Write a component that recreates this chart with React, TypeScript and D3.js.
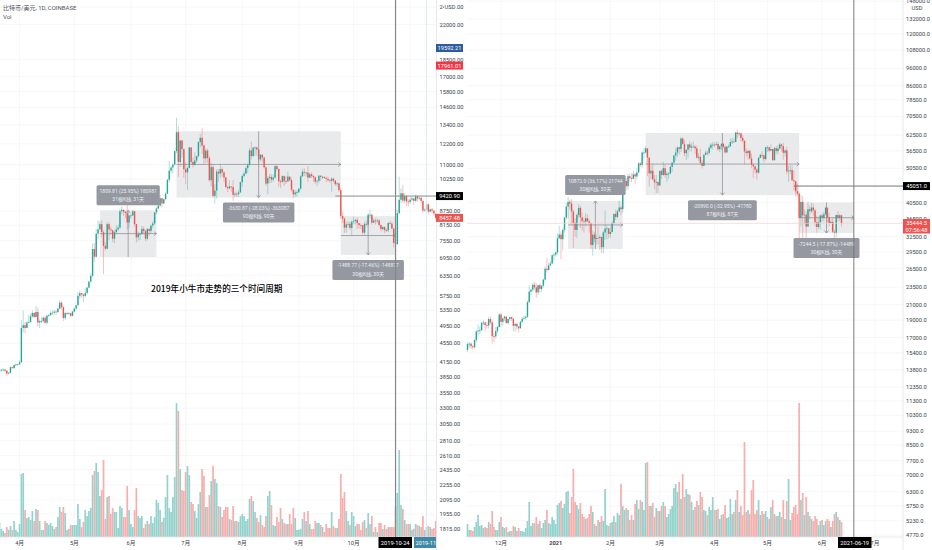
import * as d3 from "d3";

const W = 932;
const H = 550;
const FONT = "Roboto, 'Noto Sans CJK SC', sans-serif";
const UP = "#26a69a";
const DOWN = "#ef5350";
const UP_VOL = "#94d3cd";
const DOWN_VOL = "#f8aeac";
const GRID = "#f3f4f6";
const AXIS_TEXT = "#3a3e4a";

// left chart: 2019-03-21 .. 2019-11-15
const closesL = [
  3980, 3990, 3995, 3970, 3915, 3930, 4040, 4025, 4085, 4095, 4100,
  4140, 4905, 4975, 4905, 5040, 5050, 5195, 5285, 5180, 5310, 5040, 5075, 5075, 5160, 5035, 5215, 5230, 5285, 5290, 5320, 5310, 5400, 5560, 5435, 5155, 5280, 5280, 5275, 5210, 5320,
  5400, 5490, 5750, 5830, 5790, 5750, 5830, 5990, 6170, 6350, 7250, 6980, 7820, 7990, 8200, 7880, 7360, 7260, 8200, 7990, 7950, 7630, 7880, 7990, 8060, 8740, 8800, 8720, 8660, 8270, 8550,
  8560, 8740, 8200, 7680, 7800, 7810, 8010, 7930, 7630, 8010, 7930, 8140, 8230, 8690, 8860, 8980, 9320, 9080, 9280, 9530, 10210, 10680, 10850, 11010, 11770, 12920, 11150, 12400, 11880, 10760,
  10590, 10830, 11980, 11150, 10990, 11230, 11480, 12300, 12570, 12100, 11350, 11800, 11370, 10190, 10870, 9430, 9680, 10630, 10530, 10760, 10590, 10330, 9850, 9790, 9880, 9850, 9480, 9530, 9510, 9590, 10090,
  10400, 10530, 10820, 10980, 11810, 11480, 11970, 11980, 11860, 11290, 11560, 11400, 10860, 10020, 10300, 10360, 10220, 10320, 10920, 10770, 10130, 10110, 10400, 10140, 10130, 10370, 10190, 9720, 9500, 9590, 9600,
  9770, 10390, 10620, 10580, 10580, 10320, 10490, 10400, 10340, 10120, 10160, 10420, 10360, 10360, 10310, 10260, 10190, 10160, 10270, 10170, 9990, 10030, 9700, 8530, 8430, 8060, 8190, 8210, 8050, 8300,
  8330, 8380, 8240, 8160, 8150, 7860, 8210, 8180, 8590, 8590, 8260, 8350, 8330, 8350, 8160, 8000, 8080, 7960, 7950, 8240, 8220, 8020, 7470, 7430, 8660, 9250, 9550, 9210, 9420, 9170, 9150,
  9250, 9310, 9200, 9410, 9310, 9340, 9200, 8770, 8810, 9040, 8720, 8820, 8760, 8640, 8457,
];
const highsL = [
  4020, 4010, 4020, 4000, 3985, 3950, 4060, 4050, 4100, 4120, 4115,
  4180, 5100, 5350, 5060, 5080, 5240, 5260, 5350, 5300, 5470, 5420, 5120, 5180, 5200, 5200, 5240, 5260, 5320, 5340, 5370, 5350, 5420, 5630, 5600, 5480, 5300, 5320, 5300, 5290, 5340,
  5420, 5510, 5850, 5900, 5840, 5810, 5960, 6020, 6200, 6430, 7450, 7470, 8000, 8350, 8320, 8370, 7950, 7480, 8280, 8280, 8100, 7980, 7950, 8160, 8180, 8850, 8950, 8820, 8720, 9050, 8590,
  8620, 8810, 8750, 8200, 7900, 7870, 8130, 8100, 7960, 8030, 8020, 8180, 8320, 8700, 8900, 9350, 9470, 9340, 9310, 9600, 10250, 11200, 10930, 11100, 11800, 13880, 13300, 12440, 12400, 11920,
  11150, 10900, 12000, 12010, 11400, 11700, 11500, 12350, 12800, 13200, 12150, 11920, 11900, 11500, 11100, 11040, 9980, 10760, 10770, 11050, 10860, 10650, 10340, 9910, 10180, 9900, 10200, 9620, 9640, 9720, 10120,
  10470, 10650, 10910, 11080, 11950, 12330, 12000, 12050, 12030, 11900, 11600, 11550, 11440, 10890, 10400, 10520, 10490, 10480, 10950, 11000, 10800, 10220, 10440, 10430, 10390, 10620, 10390, 10300, 9730, 9700, 9710,
  9800, 10450, 10780, 10800, 10620, 10920, 10580, 10590, 10450, 10390, 10220, 10450, 10430, 10420, 10380, 10370, 10380, 10240, 10350, 10290, 10200, 10100, 10060, 9800, 8730, 8470, 8280, 8320, 8300, 8350,
  8500, 8390, 8480, 8240, 8220, 8170, 8300, 8340, 8670, 8800, 8640, 8440, 8430, 8420, 8400, 8180, 8130, 8120, 8020, 8290, 8330, 8300, 8060, 7550, 8800, 10370, 9790, 9950, 9550, 9490, 9290,
  9360, 9380, 9340, 9500, 9440, 9400, 9370, 9210, 8870, 9100, 9070, 8860, 8890, 8800, 8600,
];
const lowsL = [
  3950, 3940, 3960, 3940, 3870, 3900, 3920, 4000, 4000, 4060, 4080,
  4080, 4130, 4800, 4780, 4900, 5020, 5040, 5160, 5150, 5170, 4950, 4900, 5030, 5040, 5000, 5010, 5180, 5200, 5240, 5250, 5230, 5280, 5390, 5370, 5080, 5100, 5230, 5230, 5170, 5190,
  5310, 5370, 5480, 5660, 5700, 5580, 5700, 5790, 5960, 6140, 6320, 6800, 6950, 7600, 7900, 7700, 6400, 7200, 7250, 7580, 7800, 7500, 7470, 7800, 7920, 8000, 8620, 8550, 8450, 8000, 8050,
  8420, 8530, 8100, 7480, 7550, 7570, 7770, 7800, 7530, 7560, 7740, 7830, 8040, 8170, 8600, 8840, 8950, 8910, 9050, 9260, 9520, 10100, 10550, 10540, 10950, 11650, 10350, 10900, 11400, 10300,
  10000, 9720, 10800, 11020, 10850, 10950, 11100, 11400, 12000, 11600, 11000, 11100, 11100, 10100, 9880, 9350, 9080, 9300, 10120, 10300, 10360, 10100, 9800, 9600, 9750, 9620, 9200, 9370, 9380, 9370, 9570,
  9860, 10340, 10490, 10550, 10950, 11280, 11420, 11500, 11500, 11100, 11200, 11120, 10780, 9900, 9500, 10050, 10050, 10100, 10270, 10670, 9870, 9800, 10050, 9910, 10000, 10100, 10120, 9640, 9320, 9370, 9380,
  9560, 9730, 10350, 10400, 10360, 10100, 10310, 10300, 10100, 10000, 9900, 10050, 10150, 10250, 10260, 10100, 10120, 10070, 9620, 10060, 9900, 9860, 9620, 8400, 8250, 7850, 7860, 8060, 7970, 7750,
  8200, 8190, 8000, 8020, 8000, 7790, 7780, 8100, 8130, 8450, 8170, 8270, 8180, 8240, 8100, 7920, 7940, 7840, 7880, 7880, 8200, 8000, 7300, 7370, 7400, 8600, 9100, 9100, 9080, 8970, 8950,
  9060, 9190, 9010, 9150, 9170, 9240, 9080, 8680, 8720, 8780, 8600, 8700, 8660, 8560, 8400,
];
const volumesL = [
  15, 8, 6, 4, 10, 7, 11, 7, 16, 7, 5, 13, 63, 64, 27, 19, 20, 17, 26, 16,
  28, 27, 16, 7, 7, 16, 14, 12, 14, 11, 8, 10, 20, 30, 25, 30, 24, 7, 8, 12,
  12, 12, 12, 33, 18, 10, 15, 27, 21, 26, 29, 62, 66, 74, 65, 41, 47, 77, 18, 40,
  41, 23, 29, 25, 25, 9, 31, 29, 20, 20, 51, 27, 13, 10, 27, 49, 21, 19, 21, 9,
  13, 16, 13, 21, 14, 20, 37, 34, 27, 15, 19, 40, 62, 29, 25, 40, 60, 134, 126, 68,
  47, 46, 65, 71, 62, 35, 33, 26, 19, 33, 45, 68, 61, 30, 30, 42, 56, 71, 58, 54,
  31, 30, 20, 27, 30, 30, 18, 17, 31, 16, 16, 15, 21, 23, 21, 16, 18, 38, 41, 36,
  25, 19, 15, 22, 12, 10, 21, 41, 46, 32, 12, 11, 20, 15, 29, 18, 14, 13, 13, 23,
  13, 29, 19, 7, 7, 8, 18, 25, 16, 26, 13, 8, 8, 16, 14, 14, 12, 10, 5, 13,
  9, 9, 25, 11, 9, 9, 18, 63, 39, 45, 26, 16, 12, 25, 21, 11, 13, 13, 7, 15,
  17, 9, 24, 13, 21, 5, 10, 5, 14, 14, 8, 12, 8, 10, 10, 10, 10, 31, 44, 87,
  32, 28, 17, 13, 13, 13, 7, 8, 13, 12, 11, 10, 21, 7, 10, 11, 10, 8, 9, 16,
];

// right chart: 2020-11-12 .. 2021-06-12
const closesR = [
  16300, 16340, 16070, 15970, 16720, 17660, 17780, 17820, 18680, 18720, 18420, 18370, 19150, 18730, 17150, 17140, 17720, 18180, 19710,
  18800, 19220, 19450, 18650, 19150, 19380, 19180, 18330, 18550, 18250, 18040, 18810, 19170, 19280, 19440, 21350, 22830, 23130, 23860, 23480, 22730, 23820, 23240, 23730, 24680, 26450, 26260, 27040, 27370, 28880, 28990,
  29410, 32200, 32970, 31990, 33990, 36810, 39480, 40630, 40240, 38240, 35540, 33970, 37390, 39150, 36830, 36010, 35820, 36630, 35910, 35500, 30850, 32950, 32090, 32280, 32260, 32470, 30410, 33420, 34260, 34310, 33110,
  33530, 35510, 37670, 36930, 38300, 39240, 38830, 46450, 46530, 45000, 47990, 47390, 47190, 48580, 47930, 49150, 52130, 51580, 55900, 55900, 57410, 54090, 48890, 49700, 47050, 46170, 46190, 45240,
  49630, 48380, 50530, 48360, 48760, 48880, 50970, 52390, 54880, 55880, 57800, 57230, 61190, 59000, 55650, 56900, 58910, 57670, 58100, 58100, 57400, 54100, 54350, 52300, 51300, 55050, 55840, 55780, 57630, 58780, 58800,
  58760, 59060, 57100, 58200, 59130, 58030, 55950, 58090, 58100, 59770, 59990, 59830, 63580, 62960, 63200, 61370, 60320, 56270, 55720, 56500, 53800, 51700, 51180, 50100, 49100, 54040, 55050, 54880, 53580, 57800,
  57800, 56580, 57170, 53230, 57470, 56400, 57370, 58870, 58250, 55830, 56670, 49500, 49700, 49900, 46760, 46450, 43570, 42900, 36700, 40700, 37300, 37480, 34700, 38800, 38320, 39240, 38520, 35680, 34620, 35660, 37300,
  36690, 37580, 39190, 36860, 35520, 35800, 33570, 33380, 37390, 36690, 37330, 35444.5,
];
const highsR = [
  16490, 16480, 16490, 16180, 16880, 17860, 18480, 18270, 18820, 18960, 18750, 18770, 19400, 19480, 18920, 17450, 18160, 18340, 19850,
  19920, 19300, 19560, 19500, 19180, 19420, 19420, 19260, 18640, 18700, 18290, 18940, 19400, 19560, 19570, 21560, 23780, 23290, 24170, 24280, 24100, 23830, 24100, 23780, 24780, 26860, 28400, 27500, 27850, 29000, 29300,
  29600, 33300, 34800, 33600, 34450, 36950, 40400, 41950, 41300, 41400, 38650, 36600, 37800, 40100, 39700, 37950, 36800, 37850, 37450, 36400, 35600, 33800, 33500, 33000, 34800, 32900, 32550, 33780, 38500, 34900, 34300,
  34700, 35980, 37700, 38700, 38650, 40950, 39700, 46800, 48200, 47300, 48650, 48850, 48900, 49700, 49000, 50500, 52500, 52550, 56300, 57500, 58300, 57500, 54200, 51400, 52000, 48380, 48390, 46600,
  50000, 50150, 52650, 51800, 49400, 49200, 51400, 52400, 54900, 57400, 58100, 58000, 61700, 61600, 60600, 56950, 58950, 60100, 59400, 59900, 58600, 58400, 55800, 57200, 53200, 55400, 56600, 56500, 58400, 59400, 59800,
  59500, 60000, 59800, 58500, 59300, 59500, 58650, 58150, 58900, 61250, 61300, 61200, 63800, 64900, 63800, 63500, 62500, 60400, 57500, 57000, 56800, 55500, 52100, 51200, 50600, 54300, 55500, 56400, 55200, 57950,
  58500, 57950, 58900, 57200, 57900, 58350, 58650, 59500, 59200, 59500, 57000, 58000, 51300, 51500, 51500, 49800, 46600, 45800, 43500, 42500, 42200, 38800, 38300, 40800, 39700, 40400, 40300, 38900, 37200, 37000, 37500,
  37900, 38200, 39450, 39200, 37900, 36450, 36800, 34000, 37500, 38400, 37650, 37400,
];
const lowsR = [
  15500, 15900, 15800, 15720, 15870, 16500, 17200, 17350, 17730, 18400, 17700, 18000, 18000, 18500, 16350, 16500, 16900, 17500, 18180,
  18150, 18350, 18900, 18600, 18500, 18950, 18920, 17700, 17640, 17900, 17600, 18020, 18700, 19080, 19050, 19270, 21250, 22350, 22800, 23100, 21900, 22350, 22650, 22800, 23450, 24500, 25800, 26100, 27000, 27200, 27900,
  28700, 29000, 32000, 28100, 29800, 33400, 36300, 36600, 38700, 35100, 30300, 32500, 32300, 36700, 34400, 33800, 33400, 34800, 35800, 33400, 30100, 28800, 31400, 30900, 31000, 29850, 29300, 29250, 31900, 32000, 32200,
  32300, 33400, 35300, 36200, 36600, 38100, 37400, 38000, 45000, 43800, 44000, 46300, 46200, 47100, 45600, 47000, 48900, 50900, 50700, 53400, 55500, 48000, 44900, 47000, 46700, 44100, 43000, 43100,
  45000, 47100, 48100, 47500, 46300, 47100, 48500, 49300, 51800, 53000, 54300, 55200, 56100, 58900, 54600, 53300, 54100, 56300, 56300, 57900, 55500, 53700, 53000, 51800, 50400, 51300, 55500, 54800, 55000, 57100, 57000,
  57900, 58500, 56500, 56000, 56800, 57400, 55500, 55750, 57700, 58100, 59000, 59400, 59850, 61300, 62000, 60000, 59600, 51700, 54500, 53500, 53500, 50500, 47500, 48900, 47000, 48800, 53900, 53900, 52300, 53100,
  56100, 56000, 56400, 53000, 52900, 55300, 55300, 56900, 56300, 53400, 54500, 48600, 46300, 48800, 46600, 43800, 42200, 42100, 30000, 34800, 31200, 35300, 31200, 34800, 36500, 37900, 37200, 34700, 33400, 34200, 34100,
  35700, 35900, 37200, 35600, 34800, 35300, 33300, 31100, 32400, 35800, 35950, 34700,
];
const volumesR = [
  13, 7, 7, 6, 10, 15, 22, 11, 12, 9, 10, 9, 15, 13, 26, 10, 7, 7, 15, 20,
  10, 9, 10, 5, 6, 6, 11, 10, 6, 9, 6, 6, 5, 9, 16, 35, 11, 14, 14, 20,
  13, 16, 9, 14, 17, 27, 14, 13, 20, 17, 13, 32, 34, 36, 29, 33, 45, 46, 24, 40,
  68, 35, 32, 28, 34, 23, 20, 18, 19, 23, 31, 25, 13, 11, 17, 15, 21, 16, 48, 12,
  11, 14, 15, 21, 15, 24, 22, 53, 31, 27, 29, 27, 17, 22, 17, 33, 37, 28, 37, 35,
  27, 74, 75, 31, 31, 34, 20, 29, 26, 26, 31, 35, 31, 20, 23, 28, 31, 49, 53, 45,
  55, 38, 63, 40, 48, 43,
  42, 35, 27, 30, 36, 32, 45, 40, 27, 26, 22, 30, 27, 40, 27, 27, 28, 18, 22, 23,
  32, 19, 20, 38, 23, 25, 37, 47, 25, 31, 22, 95, 25, 27, 23, 47, 57, 23, 27, 37,
  22, 26, 23, 26, 20, 18, 30, 37, 23, 21, 21, 25, 20, 37, 18, 36, 58, 17, 24, 30,
  32, 23, 134, 37, 44, 22, 40, 25, 21, 18, 16, 21, 18, 12, 16, 17, 12, 16, 18, 16,
  10, 16, 23, 25, 20, 17, 15,
];

const priceTicksL = [24000, 22000, 18500, 17000, 15800, 14600, 13400, 12200, 11000, 10250, 8750, 8150, 7550, 6950, 6350, 5750, 5350, 4950, 4550, 4150, 3850, 3550, 3300, 3050, 2810, 2610, 2435, 2255, 2095, 1955, 1815];
const priceTicksR = [148000, 132000, 120000, 108000, 96000, 86000, 78500, 70500, 62500, 56500, 50500, 40500, 36500, 32500, 29500, 26500, 23500, 21000, 19000, 17000, 15400, 13800, 12350, 11300, 10300, 9300, 8500, 7700, 7000, 6300, 5750, 5230, 4770];

// an empty name keeps the grid line: the date tag hides that month's label
const monthsL: [string, string][] = [["4月", "2019-04-01"], ["5月", "2019-05-01"], ["6月", "2019-06-01"], ["7月", "2019-07-01"], ["8月", "2019-08-01"], ["9月", "2019-09-01"], ["10月", "2019-10-01"], ["", "2019-11-01"]];
const monthsR: [string, string][] = [["12月", "2020-12-01"], ["2021", "2021-01-01"], ["2月", "2021-02-01"], ["3月", "2021-03-01"], ["4月", "2021-04-01"], ["5月", "2021-05-01"], ["6月", "2021-06-01"], ["7月", "2021-07-01"]];

interface Measure {
  from: string;
  to: string;
  top: number;
  bottom: number;
  text: string;
  bars: string;
  up?: boolean;
  labelGap?: number;
}

const measuresL: Measure[] = [
  { from: "2019-05-15", to: "2019-06-15", top: 8780, bottom: 6970, text: "1809.81 (25.95%) 180981", bars: "31根K线, 31天", up: true },
  { from: "2019-06-26", to: "2019-09-24", top: 12980, bottom: 9350, text: "-3630.87 (-28.03%) -363087", bars: "90根K线, 90天" },
  { from: "2019-09-24", to: "2019-10-24", top: 8530, bottom: 7042, text: "-1488.77 (-17.46%) -148877", bars: "30根K线, 30天" },
];
const measuresR: Measure[] = [
  { from: "2021-01-08", to: "2021-02-08", top: 40932, bottom: 30060, text: "10872.0 (36.17%) 21744", bars: "30根K线, 30天", up: true, labelGap: 6 },
  { from: "2021-02-21", to: "2021-05-19", top: 63383, bottom: 42493, text: "-20890.0 (-32.95%) -41780", bars: "87根K线, 87天" },
  { from: "2021-05-19", to: "2021-06-19", top: 40540, bottom: 33296, text: "-7244.5 (-17.87%) -14489", bars: "30根K线, 30天" },
];

const tagsL: [string, number, string][] = [["19592.21", 19592.21, "#2b5b9e"], ["17961.01", 17961.01, "#f23645"], ["9420.90", 9420.9, "#000"], ["8457.48", 8457.48, DOWN]];

const parse = (s: string) => new Date(s + "T00:00:00Z");

interface PanelProps {
  startDate: string;
  endDate: string;
  left: number;
  right: number;
  gridLeft: number;
  axisRight: number;
  priceAnchors: [number, number, number, number];
  firstOpen: number;
  closes: number[];
  highs: number[];
  lows: number[];
  volumes: number[];
  ticks: number[];
  digits: number;
  months: [string, string][];
  measures: Measure[];
}

const BASE = 537;

const Panel = (p: PanelProps) => {
  const [p0, y0, p1, y1] = p.priceAnchors;
  const x = d3.scaleUtc().domain([parse(p.startDate), parse(p.endDate)]).range([p.left, p.right]);
  const y = d3.scaleLog().domain([p0, p1]).range([y0, y1]);
  const volY = d3.scaleLinear().domain([0, 134]).range([BASE, BASE - 134]);
  const start = parse(p.startDate);
  const dayX = (i: number) => x(d3.utcDay.offset(start, i));
  const opens = p.closes.map((_, i) => (i === 0 ? p.firstOpen : p.closes[i - 1]));

  return (
    <g>
      {p.ticks.map((t) => (
        <line key={t} x1={p.gridLeft} x2={p.axisRight} y1={y(t)} y2={y(t)} stroke={GRID} strokeWidth={0.7} />
      ))}
      {p.months.map(([, d]) => (
        <line key={d} x1={x(parse(d))} x2={x(parse(d))} y1={0} y2={BASE} stroke={GRID} strokeWidth={0.7} />
      ))}

      {/* measure boxes */}
      {p.measures.map((m) => (
        <rect key={m.text} x={x(parse(m.from))} width={x(parse(m.to)) - x(parse(m.from))} y={y(m.top)} height={y(m.bottom) - y(m.top)} fill="#e9eaec" />
      ))}

      {/* volume */}
      {p.volumes.map((v, i) => (
        <rect key={i} x={dayX(i) - 0.85} width={1.7} y={volY(v)} height={BASE - volY(v)} fill={p.closes[i] >= opens[i] ? UP_VOL : DOWN_VOL} />
      ))}

      {/* candles */}
      {p.closes.map((c, i) => {
        const o = opens[i];
        const color = c >= o ? UP : DOWN;
        const top = y(Math.max(o, c));
        const bottom = y(Math.min(o, c));
        return (
          <g key={i}>
            <line x1={dayX(i)} x2={dayX(i)} y1={y(p.highs[i])} y2={y(p.lows[i])} stroke={color} strokeOpacity={0.45} strokeWidth={0.8} />
            <rect x={dayX(i) - 0.7} width={1.4} y={top} height={Math.max(bottom - top, 0.8)} fill={color} />
          </g>
        );
      })}

      {/* measure lines and labels */}
      {p.measures.map((m) => {
        const x0 = x(parse(m.from));
        const x1 = x(parse(m.to));
        const cx = (x0 + x1) / 2;
        const yTop = y(m.top);
        const yBottom = y(m.bottom);
        const mid = (yTop + yBottom) / 2;
        const w = m.text.length * 2.75;
        const gap = m.labelGap ?? 5;
        const labelY = m.up ? yTop - gap - 20 : yBottom + gap;
        const tip = m.up ? yTop : yBottom;
        const dir = m.up ? 2.5 : -2.5;
        return (
          <g key={m.text}>
            <line x1={x0} x2={x1} y1={mid} y2={mid} stroke="#85878f" strokeWidth={0.7} />
            <path d={`M${x1 - 2.5},${mid - 2}L${x1},${mid}L${x1 - 2.5},${mid + 2}`} fill="none" stroke="#85878f" strokeWidth={0.7} />
            <line x1={cx} x2={cx} y1={yTop} y2={yBottom} stroke="#85878f" strokeWidth={0.7} />
            <path d={`M${cx - 2},${tip + dir}L${cx},${tip}L${cx + 2},${tip + dir}`} fill="none" stroke="#85878f" strokeWidth={0.7} />
            <rect x={cx - w / 2} y={labelY} width={w} height={20} rx={1.5} fill="#9598a1" />
            <text x={cx} y={labelY + 7.6} textAnchor="middle" fontSize={5} fill="#eceef2">{m.text}</text>
            <text x={cx} y={labelY + 15.8} textAnchor="middle" fontSize={5} fill="#eceef2">{m.bars}</text>
          </g>
        );
      })}

      {/* axes */}
      <line x1={p.gridLeft} x2={p.axisRight} y1={BASE} y2={BASE} stroke="#e0e3eb" strokeWidth={0.8} />
      <line x1={p.axisRight} x2={p.axisRight} y1={0} y2={H} stroke="#e0e3eb" strokeWidth={0.8} />
      {p.ticks.map((t) => (
        <text key={t} x={p.axisRight + 3} y={y(t) + 2} fontSize={5.7} fill={AXIS_TEXT}>{t.toFixed(p.digits)}</text>
      ))}
      {p.months.filter(([label]) => label).map(([label, d]) => (
        <text key={d} x={x(parse(d))} y={545} textAnchor="middle" fontSize={5.7} fill={AXIS_TEXT} fontWeight={label === "2021" ? 700 : 400}>{label}</text>
      ))}
    </g>
  );
};

export default function App() {
  const yL = d3.scaleLog().domain([24000, 1815]).range([7, 529]);
  const xL = d3.scaleUtc().domain([parse("2019-03-21"), parse("2019-11-15")]).range([-0.5, 435.7]);
  const yR = d3.scaleLog().domain([132000, 4770]).range([19, 535]);
  const xR = d3.scaleUtc().domain([parse("2020-11-12"), parse("2021-06-12")]).range([467.5, 841.5]);

  return (
    <svg width={W} height={H} viewBox={`0 0 ${W} ${H}`} fontFamily={FONT} style={{ position: "absolute", left: 0, top: 0, background: "#fff" }}>
      <rect width={W} height={H} fill="#fff" />
      <Panel startDate="2019-03-21" endDate="2019-11-15" left={-0.5} right={435.7} gridLeft={0} axisRight={436.5}
        priceAnchors={[24000, 7, 1815, 529]} firstOpen={3975} closes={closesL} highs={highsL} lows={lowsL} volumes={volumesL}
        ticks={priceTicksL} digits={2} months={monthsL} measures={measuresL} />
      <Panel startDate="2020-11-12" endDate="2021-06-12" left={467.5} right={841.5} gridLeft={467} axisRight={903}
        priceAnchors={[132000, 19, 4770, 535]} firstOpen={15700} closes={closesR} highs={highsR} lows={lowsR} volumes={volumesR}
        ticks={priceTicksR} digits={1} months={monthsR} measures={measuresR} />

      {/* left crosshair */}
      <line x1={xL(parse("2019-11-10"))} x2={xL(parse("2019-11-10"))} y1={0} y2={BASE} stroke="#d3e3f2" strokeWidth={0.8} />
      <line x1={xL(parse("2019-10-24"))} x2={xL(parse("2019-10-24"))} y1={0} y2={BASE} stroke="#868686" strokeWidth={1.2} />
      <line x1={xL(parse("2019-09-21"))} x2={436} y1={yL(9420.9)} y2={yL(9420.9)} stroke="#8a8a8a" strokeWidth={1} />

      {/* right crosshair + last price */}
      <line x1={467} x2={903} y1={yR(35444.5)} y2={yR(35444.5)} stroke="#f9cfce" strokeWidth={0.7} />
      <line x1={xR(parse("2021-06-19"))} x2={xR(parse("2021-06-19"))} y1={0} y2={BASE} stroke="#6f6f6f" strokeWidth={0.9} />
      <line x1={xR(parse("2021-05-16"))} x2={903} y1={yR(45051)} y2={yR(45051)} stroke="#777" strokeWidth={1} />

      <text x={151} y={292} fontSize={8.6} fontWeight={500} fontFamily="'Noto Sans CJK SC', sans-serif" fill="#000">2019年小牛市走势的三个时间周期</text>
      <text x={3} y={10} fontSize={6} fill="#50535e">比特币/美元, 1D, COINBASE</text>
      <text x={3} y={19} fontSize={6} fill="#50535e">Vol</text>

      {/* price tags, left */}
      {tagsL.map(([label, v, bg]) => (
        <g key={label}>
          <rect x={436} y={yL(v) - 4} width={27} height={8} fill={bg} />
          <text x={449.5} y={yL(v) + 2} textAnchor="middle" fontSize={5.7} fill="#fff">{label}</text>
        </g>
      ))}
      <rect x={444} y={3} width={12} height={7.5} rx={2} fill="#fff" />
      <text x={450} y={9} textAnchor="middle" fontSize={5.7} fill={AXIS_TEXT}>USD</text>

      {/* price tags, right */}
      <rect x={903} y={yR(45051) - 4} width={27} height={8} fill="#000" />
      <text x={916.5} y={yR(45051) + 2} textAnchor="middle" fontSize={5.7} fill="#fff">45051.0</text>
      <rect x={903} y={219} width={27} height={14.5} fill={DOWN} />
      <text x={916.5} y={225} textAnchor="middle" fontSize={5.7} fill="#fff">35444.5</text>
      <text x={916.5} y={231.5} textAnchor="middle" fontSize={5.7} fill="#fff">07:56:48</text>
      <rect x={911} y={3.5} width={12} height={7.5} rx={2} fill="#fff" />
      <text x={917} y={9.5} textAnchor="middle" fontSize={5.7} fill={AXIS_TEXT}>USD</text>

      {/* date tags */}
      <rect x={414} y={BASE} width={22} height={11} fill="#3e8aa6" />
      <text x={415.5} y={545} fontSize={5.7} fill="#fff">2019-11-</text>
      <rect x={378.5} y={BASE} width={33.5} height={11} fill="#000" />
      <text x={395.2} y={545} textAnchor="middle" fontSize={5.7} fill="#fff">2019-10-24</text>
      <rect x={838} y={BASE} width={33.5} height={11} fill="#000" />
      <text x={854.7} y={545} textAnchor="middle" fontSize={5.7} fill="#fff">2021-06-19</text>
    </svg>
  );
}
